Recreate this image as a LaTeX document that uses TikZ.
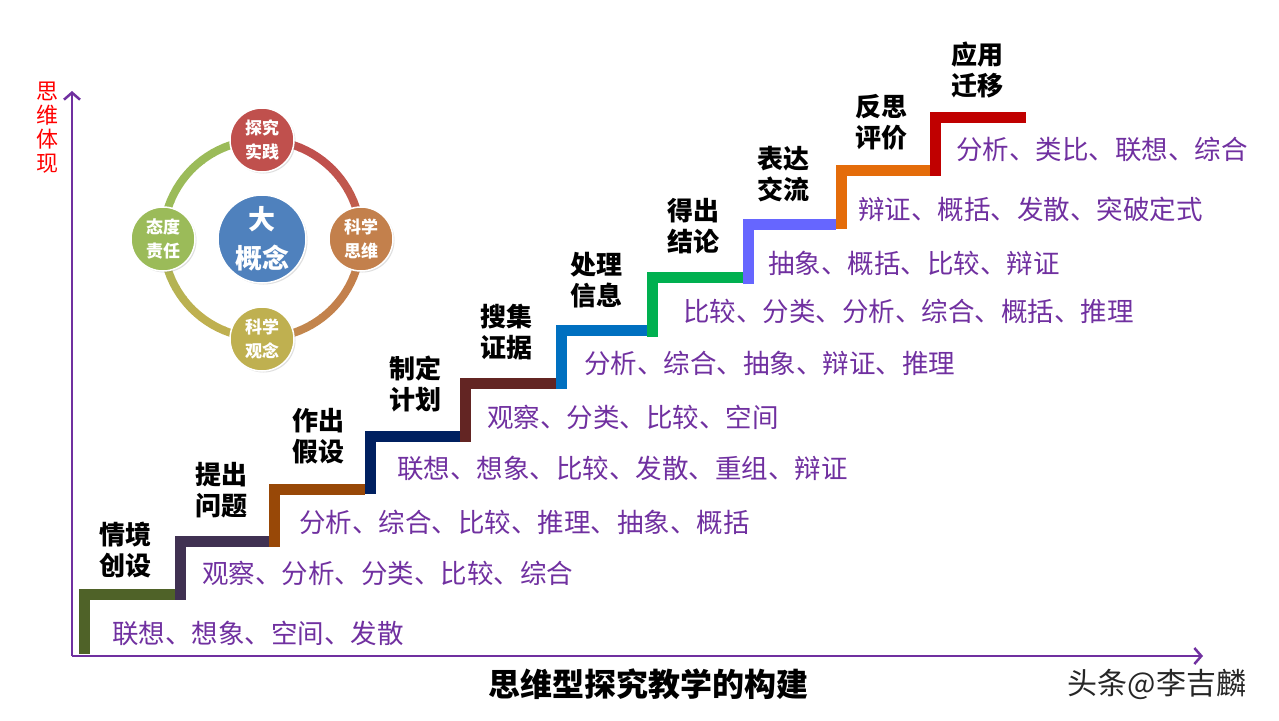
\documentclass[tikz,border=0pt]{standalone}
\usepackage{fontspec}
\setmainfont{Noto Sans CJK SC}
\usetikzlibrary{arrows.meta,shadows}
\definecolor{axisc}{HTML}{7030A0}
\definecolor{txtc}{HTML}{7030A0}
\definecolor{s1}{HTML}{4F6228}
\definecolor{s2}{HTML}{403152}
\definecolor{s3}{HTML}{984807}
\definecolor{s4}{HTML}{002060}
\definecolor{s5}{HTML}{632523}
\definecolor{s6}{HTML}{0070C0}
\definecolor{s7}{HTML}{00B050}
\definecolor{s8}{HTML}{6666FF}
\definecolor{s9}{HTML}{E46C0A}
\definecolor{s10}{HTML}{C00000}
\definecolor{cTop}{HTML}{C0504D}
\definecolor{cRight}{HTML}{C3804C}
\definecolor{cBot}{HTML}{BFB050}
\definecolor{cLeft}{HTML}{9BBB59}
\definecolor{cMid}{HTML}{4F81BD}
\tikzset{
  rowtext/.style={anchor=west, inner sep=0pt, text=txtc, font=\fontsize{26.5}{30}\selectfont},
  steplabel/.style={align=center, inner sep=0pt, text=black, font=\bfseries\fontsize{26}{31}\selectfont},
  bubble/.style={circle, minimum size=64pt, inner sep=0pt, draw=white, line width=1.5pt, text=white, align=center,
    font=\bfseries\fontsize{17}{24}\selectfont, drop shadow={opacity=0.25, shadow xshift=1.5pt, shadow yshift=-1.5pt}},
  axisline/.style={draw=axisc, line width=2.5pt, -{Straight Barb[length=7pt,width=16pt,line width=2.5pt]}}
}
\begin{document}
\begin{tikzpicture}[x=1pt,y=-1pt]
\useasboundingbox (0,0) rectangle (1279,720);
\fill[white] (0,0) rectangle (1279,720);

% steps
\foreach \xa/\xb/\yt/\yb/\c in {79/175/589/654/s1, 175/269/536/600/s2, 269/365/484/547/s3,
  365/460/431/494/s4, 460/556/378/442/s5, 556/647/325/389/s6, 647/743/272/337/s7,
  743/836/219/284/s8, 836/930/165/229/s9, 930/1026/112/176/s10} {
  \fill[\c] (\xa,\yt) rectangle (\xb,\yt+10.5);
  \fill[\c] (\xa,\yt) rectangle (\xa+10.5,\yb);
}

% axes
\coordinate (O) at (72,656);
\coordinate (Ytip) at (72,91);
\coordinate (Xtip) at (1203,656);
\draw[axisline] (O) -- (Ytip);
\draw[axisline] (O) -- (Xtip);
\node[align=center, inner sep=0pt, text=red, font=\fontsize{22}{24}\selectfont] (ylab) at (47,128) {思\\维\\体\\现};

% step labels
\node[steplabel] (l1) at (125,550) {情境\\创设};
\node[steplabel] (l2) at (221,490) {提出\\问题};
\node[steplabel] (l3) at (318,436) {作出\\假设};
\node[steplabel] (l4) at (415,384) {制定\\计划};
\node[steplabel] (l5) at (506,332) {搜集\\证据};
\node[steplabel] (l6) at (596,280) {处理\\信息};
\node[steplabel] (l7) at (693,226) {得出\\结论};
\node[steplabel] (l8) at (783,174) {表达\\交流};
\node[steplabel] (l9) at (881,122) {反思\\评价};
\node[steplabel] (l10) at (977,70) {应用\\迁移};

% row texts
\node[rowtext] (r1) at (112,633) {联想、想象、空间、发散};
\node[rowtext] (r2) at (202,573) {观察、分析、分类、比较、综合};
\node[rowtext] (r3) at (299,522) {分析、综合、比较、推理、抽象、概括};
\node[rowtext] (r4) at (397,468) {联想、想象、比较、发散、重组、辩证};
\node[rowtext] (r5) at (487,417) {观察、分类、比较、空间};
\node[rowtext] (r6) at (584,363) {分析、综合、抽象、辩证、推理};
\node[rowtext] (r7) at (683,311) {比较、分类、分析、综合、概括、推理};
\node[rowtext] (r8) at (768,263) {抽象、概括、比较、辩证};
\node[rowtext] (r9) at (858,209) {辩证、概括、发散、突破定式};
\node[rowtext] (r10) at (956,149) {分析、类比、联想、综合};

% circle diagram ring
\foreach \a/\ca/\cb/\mx in {-90/cTop/cRight/40, 0/cRight/cBot/25, 90/cBot/cLeft/55, 180/cLeft/cTop/0} {
  \foreach \i in {0,...,11} {
    \pgfmathtruncatemacro\p{\i<6 ? 100 : 100-(\i-5)*\mx/6}
    \pgfmathsetmacro\sa{\a+\i*7.5}
    \pgfmathsetmacro\ea{\a+\i*7.5+8}
    \draw[line width=8pt, color=\ca!\p!\cb] plot[domain=\sa:\ea, samples=5, smooth] ({262+99*cos(\x)},{239+99*sin(\x)});
  }
}
\node[bubble, fill=cTop] (top) at (262,140) {探究\\实践};
\node[bubble, fill=cRight] (right) at (361,239) {科学\\思维};
\node[bubble, fill=cBot] (bottom) at (262,339) {科学\\观念};
\node[bubble, fill=cLeft] (left) at (163,239) {态度\\责任};
\node[circle, minimum size=88pt, inner sep=0pt, draw=white, line width=1.5pt, fill=cMid, text=white, align=center,
  font=\bfseries\fontsize{27}{39}\selectfont, drop shadow={opacity=0.25, shadow xshift=1.5pt, shadow yshift=-1.5pt}] (mid) at (262,239) {大\\概念};

% title and watermark
\node[inner sep=0pt, font=\bfseries\fontsize{32}{36}\selectfont] (title) at (648,684) {思维型探究教学的构建};
\node[inner sep=0pt, text=black!85, font=\fontsize{30}{34}\selectfont] (wm) at (1157,684) {头条@李吉麟};
\end{tikzpicture}
\end{document}
